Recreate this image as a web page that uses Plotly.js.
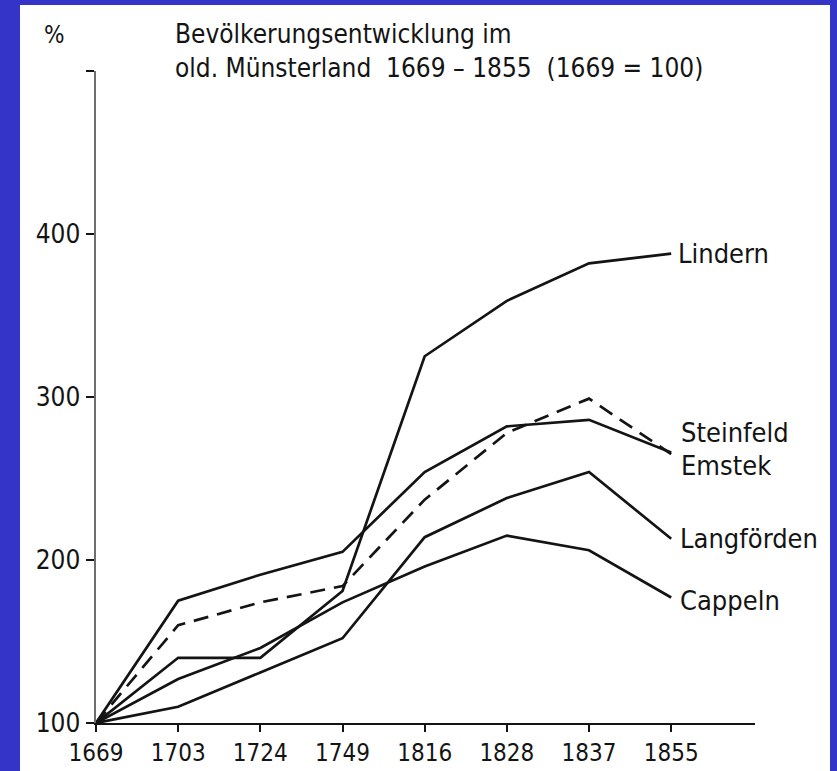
<!DOCTYPE html>
<html>
<head>
<meta charset="utf-8">
<script src="https://cdn.plot.ly/plotly-3.0.1.min.js"></script>
<style>
  html, body { margin: 0; padding: 0; background: #3434c8; width: 837px; height: 771px; overflow: hidden; }
  #chart { position: absolute; left: 20px; top: 5px; width: 810px; height: 766px; background: #ffffff; }
</style>
</head>
<body>
<div id="chart"></div>
<script>
// ---- data ----
const years = ['1669', '1703', '1724', '1749', '1816', '1828', '1837', '1855'];
const lindern     = [100, 140, 140, 181, 325, 359, 382, 388];
const steinfeld   = [100, 175, 191, 205, 254, 282, 286, 266];
const emstek      = [100, 160, 174, 184, 237, 278, 299, 265];
const langfoerden = [100, 110, 131, 152, 214, 238, 254, 213];
const cappeln     = [100, 127, 146, 174, 196, 215, 206, 177];

const seriesNames = ['Lindern', 'Steinfeld', 'Emstek', 'Langförden', 'Cappeln'];
const seriesData  = [lindern, steinfeld, emstek, langfoerden, cappeln];
const seriesDash  = ['solid', 'solid', '15px,9px', 'solid', 'solid'];

const yTickVals  = [100, 200, 300, 400, 500];
const yTickText  = ['100', '200', '300', '400', ''];

const titleLines = ['Bevölkerungsentwicklung im', 'old. Münsterland  1669 – 1855  (1669 = 100)'];
const unitLabel  = '%';

// ---- layout helpers ----
const W = 810, H = 766;
const M = { l: 76, r: 75, t: 66, b: 48 };
const PW = W - M.l - M.r, PH = H - M.t - M.b;
const px = x => (x - M.l) / PW;
const py = y => (H - M.b - y) / PH;

const FONT = 'DejaVu Sans Condensed, DejaVu Sans, sans-serif';
const INK = '#141414';

const traces = seriesData.map((vals, i) => ({
  type: 'scatter',
  mode: 'lines',
  x: years,
  y: vals,
  name: seriesNames[i],
  line: { color: INK, width: 2.7, dash: seriesDash[i] },
  cliponaxis: false,
  hoverinfo: 'x+y+name'
}));

const lastIdx = years.length - 1;
const labelAnn = [
  { text: seriesNames[0], x: lastIdx + 0.06, y: lindern[lastIdx] },
  { text: seriesNames[1], x: lastIdx + 0.10, y: steinfeld[lastIdx] + 12 },
  { text: seriesNames[2], x: lastIdx + 0.10, y: emstek[lastIdx] - 7 },
  { text: seriesNames[3], x: lastIdx + 0.08, y: langfoerden[lastIdx] },
  { text: seriesNames[4], x: lastIdx + 0.08, y: cappeln[lastIdx] - 2 }
].map(a => ({
  xref: 'x', yref: 'y', x: a.x, y: a.y, text: a.text,
  showarrow: false, xanchor: 'left', yanchor: 'middle',
  font: { family: FONT, size: 27, color: INK }
}));

const annotations = labelAnn.concat([
  {
    xref: 'paper', yref: 'paper', x: px(153), y: py(12),
    xanchor: 'left', yanchor: 'top', align: 'left', showarrow: false,
    text: titleLines.join('<br>'),
    font: { family: FONT, size: 26, color: INK }
  },
  {
    xref: 'paper', yref: 'paper', x: px(34), y: py(30),
    xanchor: 'center', yanchor: 'middle', showarrow: false,
    text: unitLabel,
    font: { family: FONT, size: 24, color: INK }
  }
]);

const layout = {
  width: W, height: H,
  margin: M,
  paper_bgcolor: '#ffffff',
  plot_bgcolor: '#ffffff',
  showlegend: false,
  xaxis: {
    type: 'category',
    range: [0, 8.02],
    showgrid: false, zeroline: false,
    showline: true, linecolor: INK, linewidth: 2.2,
    ticks: 'outside', ticklen: 7, tickwidth: 2, tickcolor: INK,
    tickfont: { family: FONT, size: 24, color: INK },
    fixedrange: true
  },
  yaxis: {
    range: [100, 500],
    tickvals: yTickVals, ticktext: yTickText,
    showgrid: false, zeroline: false,
    showline: true, linecolor: '#6e6e6e', linewidth: 2.5,
    ticks: 'outside', ticklen: 8, tickwidth: 2.5, tickcolor: INK,
    tickfont: { family: FONT, size: 26, color: INK },
    fixedrange: true
  },
  annotations: annotations
};

Plotly.newPlot('chart', traces, layout, { displayModeBar: false, staticPlot: true });
</script>
</body>
</html>
